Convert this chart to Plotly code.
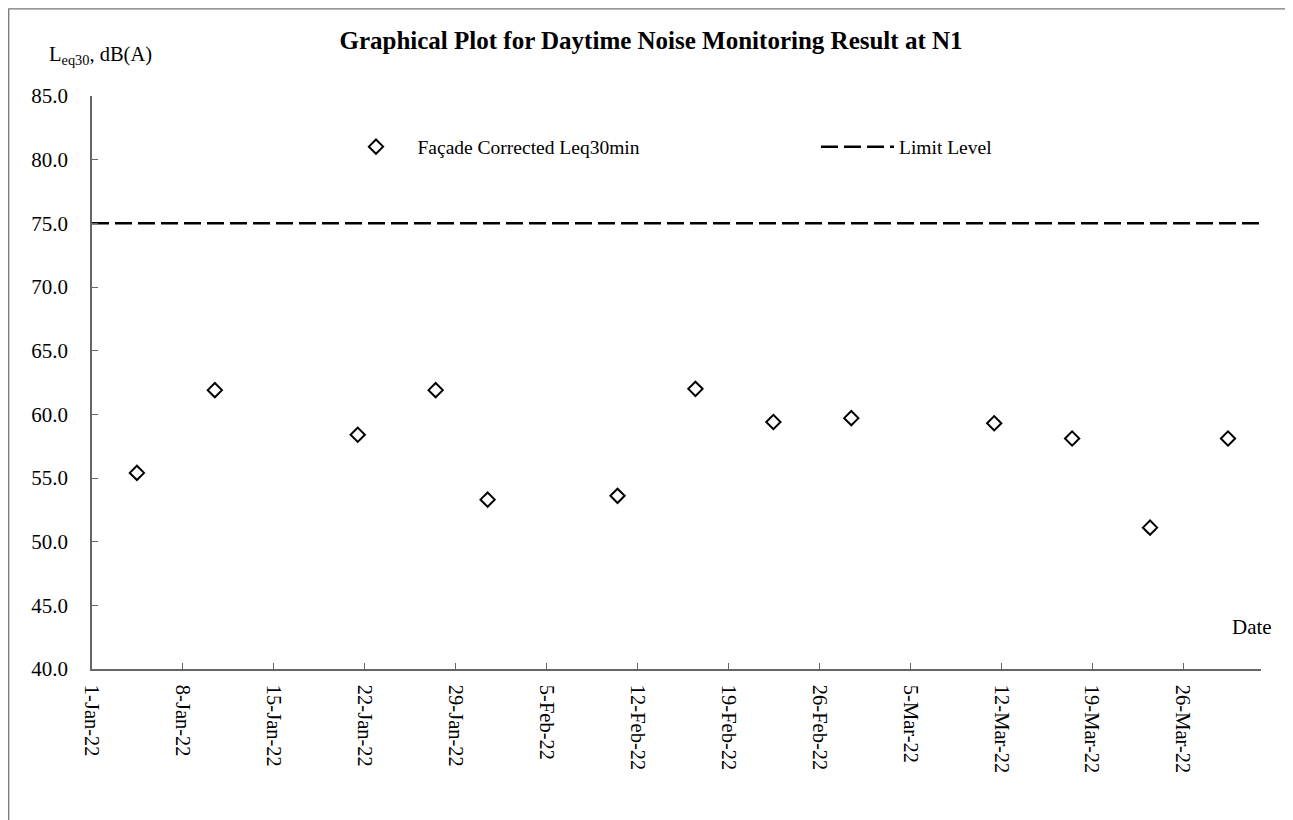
import plotly.graph_objects as go

# Data
dates = [
    "2022-01-04 11:00", "2022-01-10 11:00", "2022-01-21 11:00", "2022-01-27 11:00",
    "2022-01-31 11:00", "2022-02-10 11:00", "2022-02-16 11:00", "2022-02-22 11:00",
    "2022-02-28 11:00", "2022-03-11 11:00", "2022-03-17 11:00", "2022-03-23 11:00",
    "2022-03-29 11:00",
]
leq30 = [55.4, 61.9, 58.4, 61.9, 53.3, 53.6, 62.0, 59.4, 59.7, 59.3, 58.1, 51.1, 58.1]

limit_dates = ["2022-01-01", "2022-04-01"]
limit_level = [75.0, 75.0]

FONT = "Liberation Serif"

# page offset (body margin) compensation
OX, OY = 8, 8
PL, PR, PT, PB = 92 - OX, 1261 - OX, 96 - OY, 669.5 - OY
PW, PH = PR - PL, PB - PT


def px(xp):
    return (xp - OX - PL) / PW


def py(yp):
    return (PB - (yp - OY)) / PH


fig = go.Figure()
fig.add_trace(go.Scatter(
    x=dates, y=leq30, mode="markers", name="Façade Corrected Leq30min", legend="legend",
    marker=dict(symbol="diamond-open", size=11, color="black", line=dict(width=2, color="black")),
))
fig.add_trace(go.Scatter(
    x=limit_dates, y=limit_level, mode="lines", name="Limit Level", legend="legend2",
    line=dict(color="black", width=2.5, dash="17px,6px"),
))

fig.update_layout(
    width=1293, height=820,
    margin=dict(l=PL, r=1293 - PR, t=PT, b=820 - PB),
    paper_bgcolor="white", plot_bgcolor="white",
    font=dict(family=FONT, color="black", size=20),
    title=dict(text="<b>Graphical Plot for Daytime Noise Monitoring Result at N1</b>",
               x=(651 - OX) / 1293, xanchor="center", y=1 - (40 - OY) / 820, yanchor="middle",
               yref="container", font=dict(size=25, family=FONT, color="black")),
    showlegend=True,
    legend=dict(orientation="h", x=px(339.5 - 5), xanchor="left", y=py(147), yanchor="middle",
                itemwidth=73, font=dict(size=19.5, family=FONT), bgcolor="rgba(0,0,0,0)"),
    legend2=dict(orientation="h", x=px(821 - 5), xanchor="left", y=py(147), yanchor="middle",
                 itemwidth=73, font=dict(size=19.5, family=FONT), bgcolor="rgba(0,0,0,0)"),
    xaxis=dict(
        type="date", range=["2022-01-01", "2022-04-01"],
        tick0="2022-01-01", dtick=7 * 86400000, tickformat="%-d-%b-%y",
        tickangle=90, ticks="inside", ticklen=6, tickcolor="#666",
        showline=True, linecolor="#666", linewidth=1.5, showgrid=False, zeroline=False,
        tickfont=dict(size=20.5, family=FONT), ticklabelstandoff=10,
    ),
    yaxis=dict(
        range=[40, 85], tick0=40, dtick=5, tickformat=".1f",
        ticks="inside", ticklen=6, tickcolor="#666",
        showline=True, linecolor="#666", linewidth=1.5, showgrid=False, zeroline=False,
        tickfont=dict(size=21, family=FONT), ticklabelstandoff=18,
    ),
    annotations=[
        dict(text="L<sub>eq30</sub>, dB(A)", xref="paper", yref="paper",
             x=px(47), y=py(55), xanchor="left", yanchor="middle",
             showarrow=False, font=dict(size=20.5, family=FONT)),
        dict(text="Date", xref="paper", yref="paper",
             x=px(1274), y=py(627), xanchor="right", yanchor="middle",
             showarrow=False, font=dict(size=21, family=FONT)),
    ],
    shapes=[
        dict(type="rect", xref="paper", yref="paper",
             x0=px(8.7), x1=px(1289), y0=py(900), y1=py(8.7),
             line=dict(color="#777", width=1.3), fillcolor="rgba(0,0,0,0)", layer="below"),
    ],
)

fig.write_html("out.html")
